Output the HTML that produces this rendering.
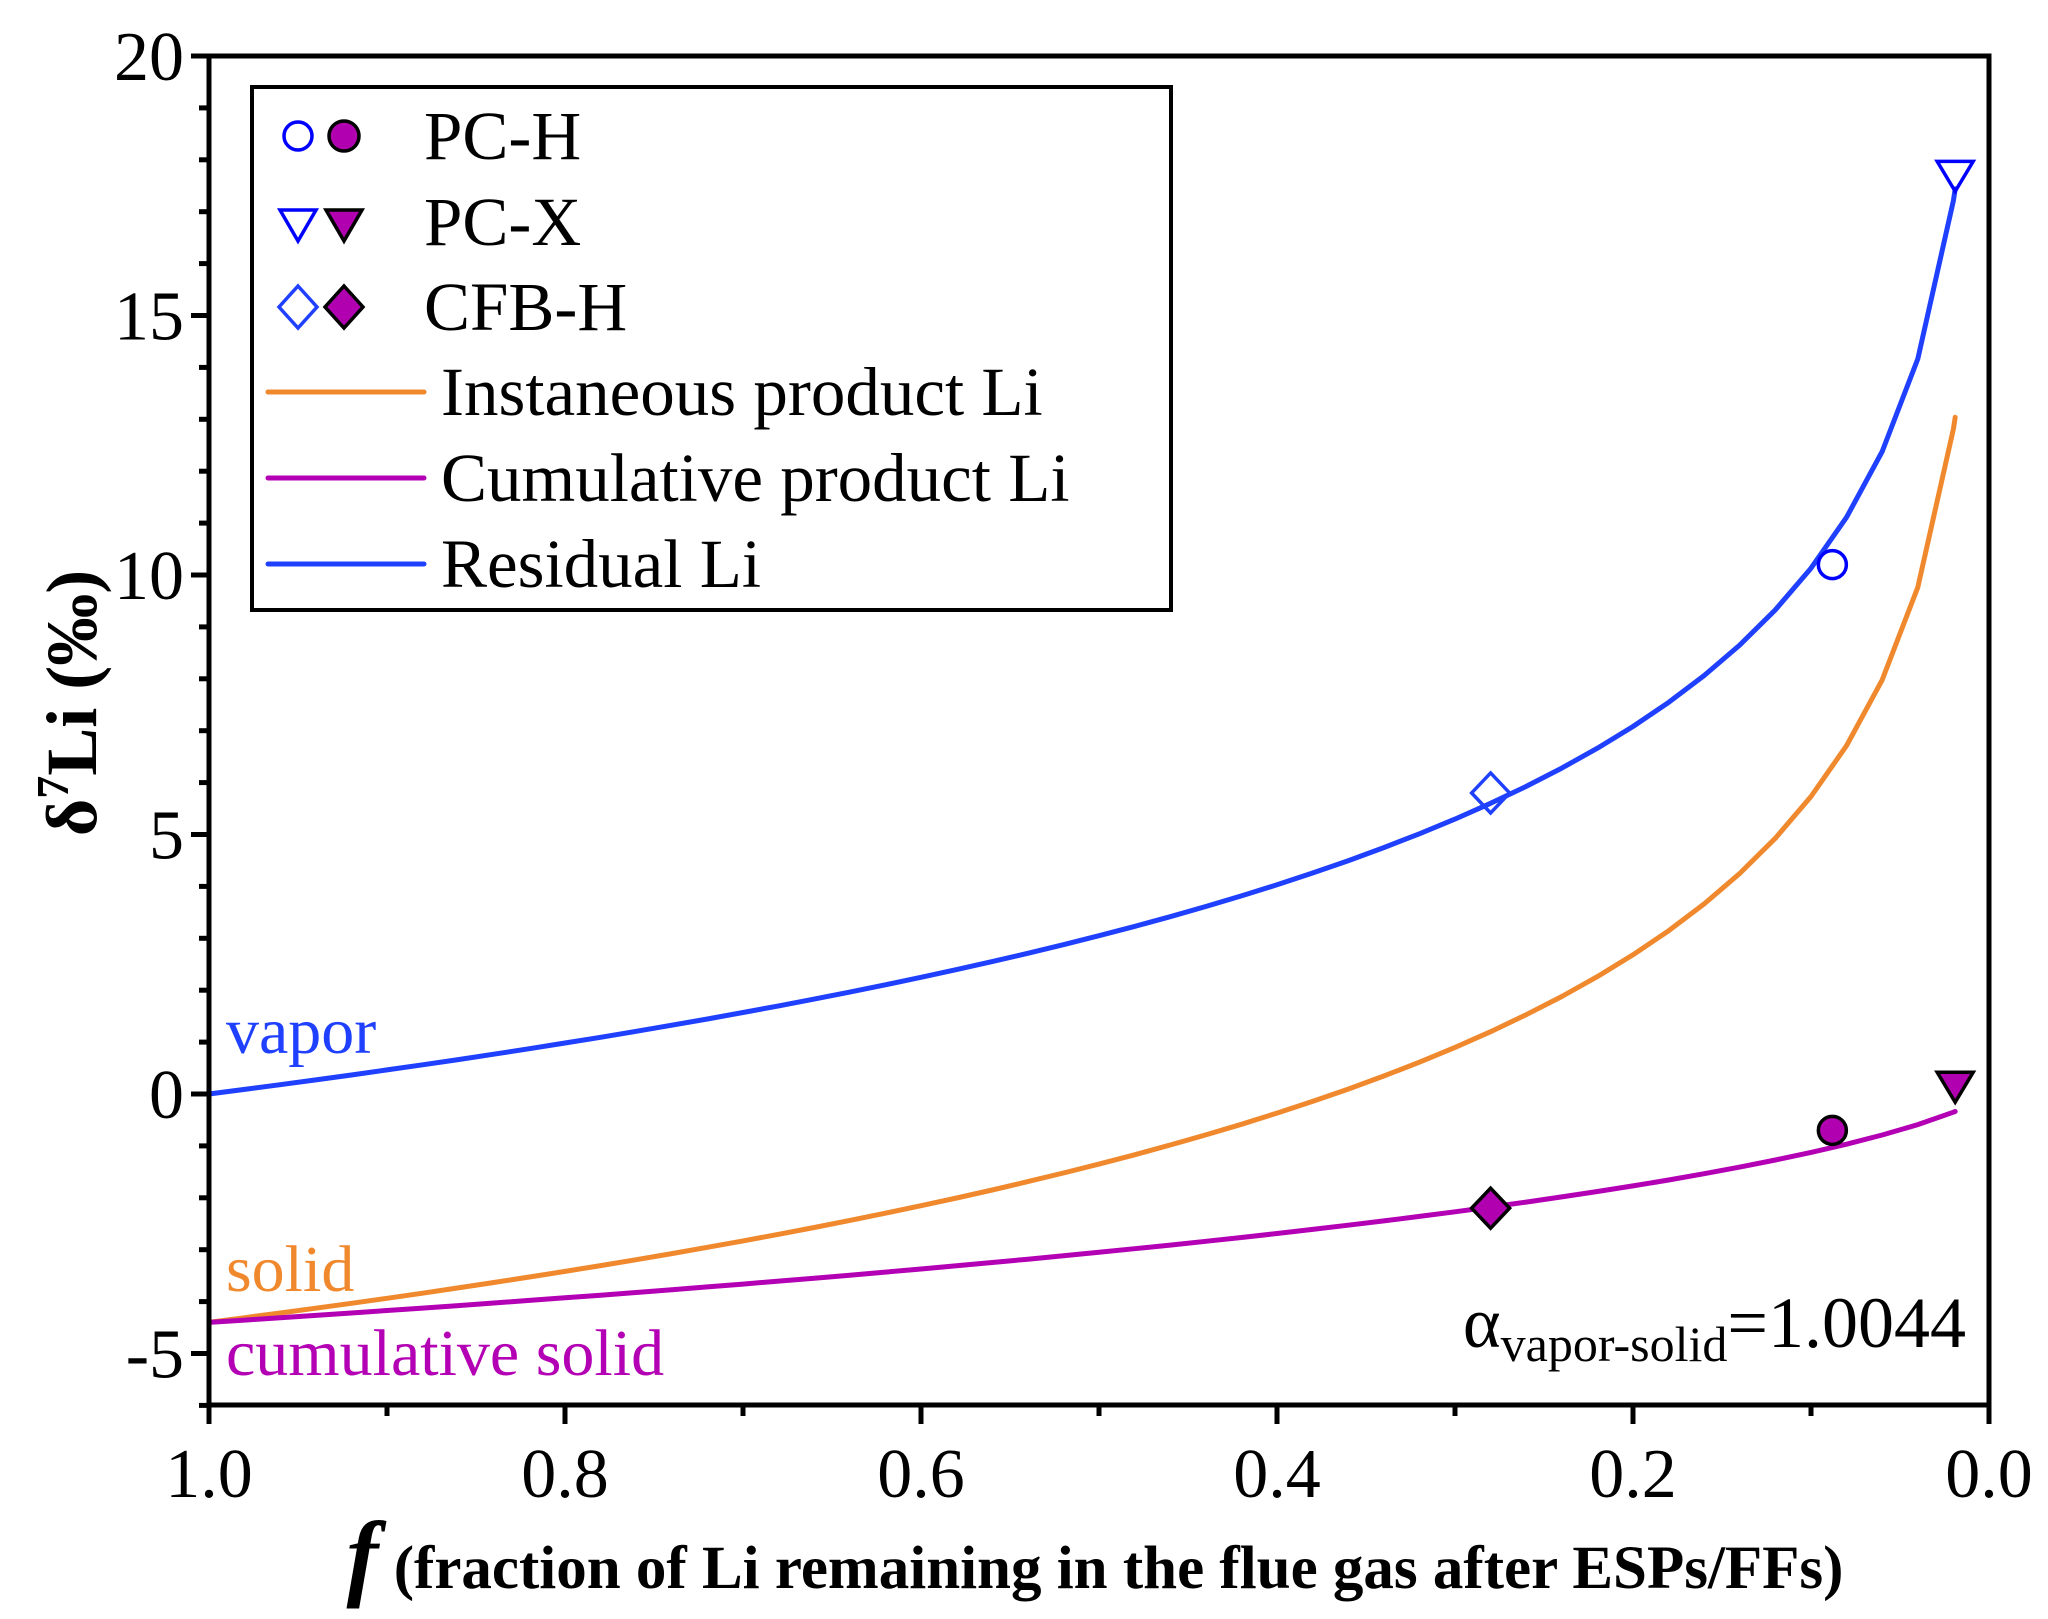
<!DOCTYPE html>
<html><head><meta charset="utf-8"><style>
html,body{margin:0;padding:0;background:#fff;}
svg{display:block;font-family:"Liberation Serif",serif;}
</style></head><body>
<svg id="s" width="2048" height="1619" viewBox="0 0 2048 1619" xmlns="http://www.w3.org/2000/svg">
<g id="curves" fill="none" stroke-width="5" stroke-linejoin="round" stroke-linecap="round"></g>
<g id="axes" stroke="#000" stroke-width="5" fill="none"></g>
<g font-size="70" text-anchor="end" id="ylab"></g>
<g font-size="70" text-anchor="middle" id="xlab"></g>
<g id="marks"></g>
<!-- legend -->
<rect x="252" y="87" width="919" height="523" fill="none" stroke="#000" stroke-width="4"/>
<g font-size="69">
<circle cx="298" cy="136" r="14" fill="none" stroke="#0000ff" stroke-width="3.5"/>
<circle cx="344" cy="136" r="15" fill="#b000b0" stroke="#000" stroke-width="3.5"/>
<text x="424" y="159">PC-H</text>
<path d="M280 210 L316 210 L298 241 Z" fill="none" stroke="#0000ff" stroke-width="3.5"/>
<path d="M326 210 L362 210 L344 241 Z" fill="#b000b0" stroke="#000" stroke-width="3.5"/>
<text x="424" y="245">PC-X</text>
<path d="M298 286 L317 307 L298 328 L279 307 Z" fill="none" stroke="#2040ff" stroke-width="3.5"/>
<path d="M344 286 L363 307 L344 328 L325 307 Z" fill="#b000b0" stroke="#000" stroke-width="3.5"/>
<text x="424" y="330">CFB-H</text>
<line x1="268" y1="392" x2="424" y2="392" stroke="#f0892e" stroke-width="5" stroke-linecap="round"/>
<text x="441" y="415">Instaneous product Li</text>
<line x1="268" y1="478" x2="424" y2="478" stroke="#b400b4" stroke-width="5" stroke-linecap="round"/>
<text x="441" y="501">Cumulative product Li</text>
<line x1="268" y1="564" x2="424" y2="564" stroke="#2040ff" stroke-width="5" stroke-linecap="round"/>
<text x="441" y="587">Residual Li</text>
</g>
<!-- annotations -->
<g font-size="66">
<text x="226" y="1053" fill="#2040ff">vapor</text>
<text x="226" y="1291" fill="#f0892e">solid</text>
<text x="226" y="1375" fill="#b400b4">cumulative solid</text>
<text x="1966" y="1347" text-anchor="end" fill="#000" font-size="72">α<tspan font-size="50" dy="14">vapor-solid</tspan><tspan dy="-14">=1.0044</tspan></text>
</g>
<!-- axis titles -->
<text transform="translate(96,703) rotate(-90)" text-anchor="middle" font-size="72" font-weight="bold">δ<tspan font-size="46" dy="-28">7</tspan><tspan dy="28">Li (‰)</tspan></text>
<text x="1095" y="1588" text-anchor="middle" font-weight="bold" font-size="61"><tspan font-size="96" font-style="italic">f</tspan> (fraction of Li remaining in the flue gas after ESPs/FFs)</text>
</svg>
<script>
var NS="http://www.w3.org/2000/svg";
function X(f){return 209+(1-f)*1780;}
function Y(v){return 56+(20-v)*51.9;}
function el(t,a,p){var e=document.createElementNS(NS,t);for(var k in a)e.setAttribute(k,a[k]);p.appendChild(e);return e;}
var fs=[];for(var i=0;i<=49;i++)fs.push(1-i*0.02);fs.push(0.019);
var e=4.4;
function dv(f){return -e*Math.log(f);}
var pv="",ps="",pc="";
fs.forEach(function(f,i){var c=i?"L":"M";var v=dv(f);var s=v-4.4;
var cm=(f>0.9999)?-4.4:(-f*v)/(1-f);
pv+=c+X(f).toFixed(1)+" "+Y(v).toFixed(1);
ps+=c+X(f).toFixed(1)+" "+Y(s).toFixed(1);
pc+=c+X(f).toFixed(1)+" "+Y(cm).toFixed(1);});
var cg=document.getElementById("curves");
el("path",{d:ps,stroke:"#f0892e"},cg);
el("path",{d:pc,stroke:"#b400b4"},cg);
el("path",{d:pv,stroke:"#2040ff"},cg);
var ag=document.getElementById("axes");
el("rect",{x:209,y:56,width:1780,height:1349},ag);
var yl=document.getElementById("ylab");
for(var v=-6;v<=20;v++){var y=Y(v);var maj=(v%5===0);
el("line",{x1:209,x2:maj?191:199,y1:y,y2:y},ag);
if(maj){var t=el("text",{x:184,y:y+24},yl);t.textContent=String(v);}}
var xl=document.getElementById("xlab");
for(var i=0;i<=10;i++){var f=1-i*0.1;var x=X(f);var maj=(i%2===0);
el("line",{x1:x,x2:x,y1:1405,y2:maj?1424:1416},ag);
if(maj){var t=el("text",{x:x,y:1497},xl);t.textContent=f.toFixed(1);}}
var mg=document.getElementById("marks");
function circ(f,v,fill,st){el("circle",{cx:X(f),cy:Y(v),r:14,fill:fill,stroke:st,"stroke-width":3.5},mg);}
function tri(f,v,fill,st){var x=X(f),y=Y(v);el("path",{d:"M"+(x-18)+" "+(y-14)+"L"+(x+18)+" "+(y-14)+"L"+x+" "+(y+16)+"Z",fill:fill,stroke:st,"stroke-width":3.5},mg);}
function dia(f,v,fill,st){var x=X(f),y=Y(v);el("path",{d:"M"+x+" "+(y-20)+"L"+(x+19)+" "+y+"L"+x+" "+(y+20)+"L"+(x-19)+" "+y+"Z",fill:fill,stroke:st,"stroke-width":3.5},mg);}
circ(0.088,10.2,"none","#0000ff");
tri(0.019,17.7,"none","#0000ff");
dia(0.28,5.8,"none","#2040ff");
circ(0.088,-0.7,"#b000b0","#000");
tri(0.019,0.15,"#b000b0","#000");
dia(0.28,-2.2,"#b000b0","#000");
</script>
</body></html>
